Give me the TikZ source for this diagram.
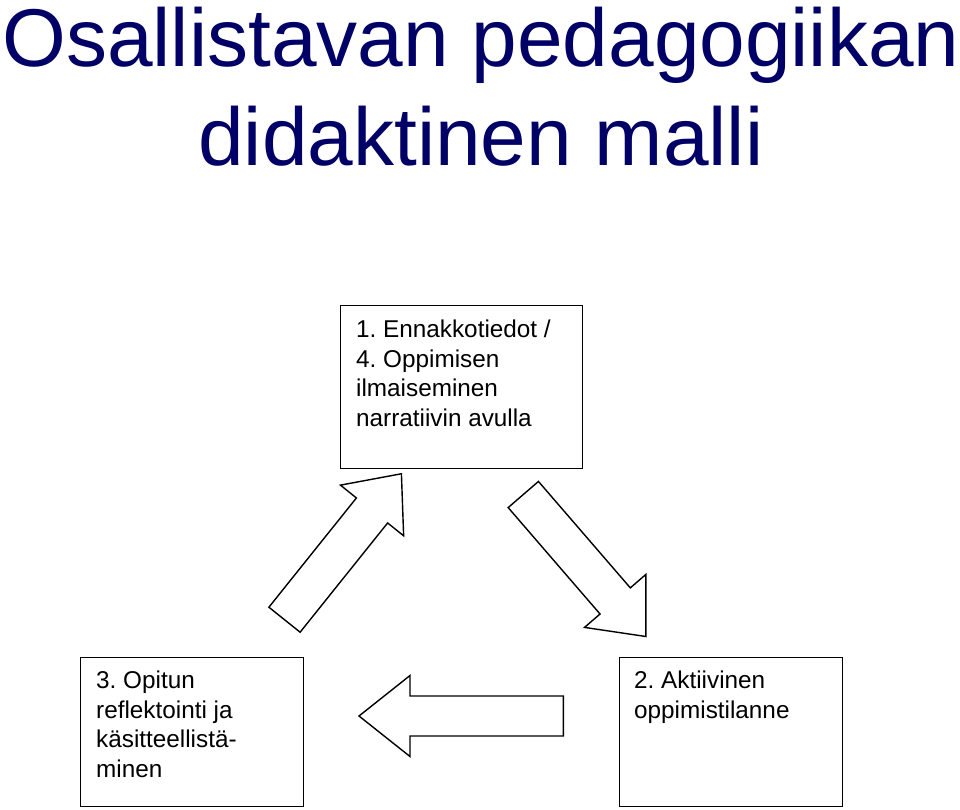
\documentclass[tikz,border=0pt]{standalone}
\usepackage{fontspec}
\setmainfont{Liberation Sans}
\frenchspacing
\definecolor{titlenavy}{RGB}{0,0,102}
\tikzset{
   stagebox/.style={draw, line width=1.4pt, inner sep=0pt, anchor=north west},
   stagetext/.style={align=left, inner sep=0pt, anchor=north west, font=\fontsize{24.3}{29.5}\selectfont},
   cycle arrow/.style={draw, line width=1.4pt, line join=miter, fill=white}
}
\newcommand{\cyclearrow}[4]{%
   \draw[cycle arrow, shift={(#1)}, rotate=#2]
      (0,20) -- (#3,20) -- (#3,40.5) -- ++(#4,-40.5) -- (#3,-40.5) -- (#3,-20) -- (0,-20) -- cycle;
}

\begin{document}
\begin{tikzpicture}[x=1pt, y=-1pt]
   \useasboundingbox (0,0) rectangle (960,809);
   \node[align=center, inner sep=0pt, anchor=north, text=titlenavy,
         font=\fontsize{82}{99}\selectfont] (title) at (481,7)
      {Osallistavan pedagogiikan\\didaktinen malli};

   \node[stagebox, minimum width=242pt, minimum height=163pt] (ennakko) at (340,305) {};
   \node[stagebox, minimum width=223pt, minimum height=149pt] (reflektio) at (80,657) {};
   \node[stagebox, minimum width=223pt, minimum height=149pt] (aktiivinen) at (619,657) {};

   \node[stagetext] (ennakkoteksti) at ([xshift=16pt, yshift=-15pt]ennakko.north west)
      {1. Ennakkotiedot /\\4. Oppimisen\\ilmaiseminen\\narratiivin avulla};
   \node[stagetext] (reflektioteksti) at ([xshift=16pt, yshift=-14pt]reflektio.north west)
      {3. Opitun\\reflektointi ja\\käsitteellistä-\\minen};
   \node[stagetext] (aktiivinenteksti) at ([xshift=15pt, yshift=-14pt]aktiivinen.north west)
      {2. Aktiivinen\\oppimistilanne};

   \coordinate (nousu) at (284.5,619.7);
   \coordinate (lasku) at (523.3,494.5);
   \coordinate (paluu) at (563.3,716);
   \cyclearrow{nousu}{51.3}{140}{47}
   \cyclearrow{lasku}{-49.2}{140.6}{47}
   \cyclearrow{paluu}{180}{153.3}{51}
\end{tikzpicture}
\end{document}
